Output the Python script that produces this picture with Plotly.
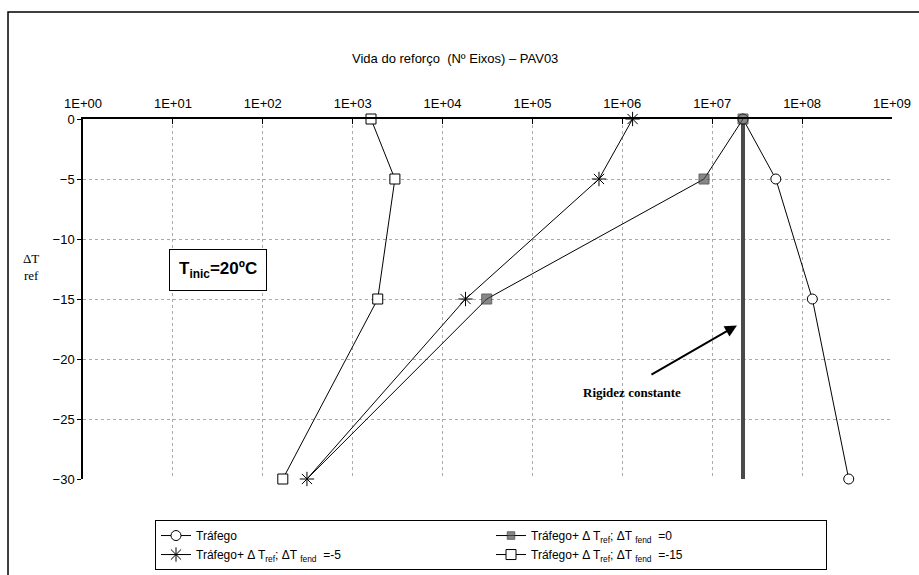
import plotly.graph_objects as go

# Temperature variation (y) and pavement life in number of axles (x, log)
delta_t = [0, -5, -15, -30]
trafego = [2.2e7, 5.1e7, 1.3e8, 3.3e8]
fend_0 = [2.2e7, 8.1e6, 3.1e4, 310]
fend_m5 = [1.3e6, 5.5e5, 1.8e4, 310]
fend_m15 = [1.6e3, 2.95e3, 1.9e3, 167]

rigidez_x = [2.2e7, 2.2e7]
rigidez_y = [0, -30]

tick_vals = [1e0, 1e1, 1e2, 1e3, 1e4, 1e5, 1e6, 1e7, 1e8, 1e9]
tick_text = ["1E+00", "1E+01", "1E+02", "1E+03", "1E+04", "1E+05",
             "1E+06", "1E+07", "1E+08", "1E+09"]

FONT = "Liberation Sans, Arial, sans-serif"
SERIF = "Liberation Serif, Times New Roman, serif"

fig = go.Figure()

# constant stiffness reference line
fig.add_trace(go.Scatter(
    x=rigidez_x, y=rigidez_y, mode="lines",
    line=dict(color="#4a4a4a", width=4),
    showlegend=False, hoverinfo="skip", cliponaxis=False
))

line = dict(color="black", width=1)

fig.add_trace(go.Scatter(
    x=trafego, y=delta_t, mode="lines+markers", name="Tráfego",
    line=line,
    marker=dict(symbol="circle", size=10, color="white",
                line=dict(color="black", width=1)),
    cliponaxis=False
))
fig.add_trace(go.Scatter(
    x=fend_0, y=delta_t, mode="lines+markers",
    name="Tráfego+ Δ T<sub>ref</sub>; ΔT <sub>fend</sub>  =0",
    line=line,
    marker=dict(symbol="square", size=[10, 10, 10, 0], color="#555555",
                line=dict(color="#222222", width=1)),
    cliponaxis=False
))
fig.add_trace(go.Scatter(
    x=fend_m5, y=delta_t, mode="lines+markers",
    name="Tráfego+ Δ T<sub>ref</sub>; ΔT <sub>fend</sub>  =-5",
    line=line,
    marker=dict(symbol="asterisk-open", size=12,
                line=dict(color="black", width=1)),
    cliponaxis=False
))
fig.add_trace(go.Scatter(
    x=fend_m15, y=delta_t, mode="lines+markers",
    name="Tráfego+ Δ T<sub>ref</sub>; ΔT <sub>fend</sub>  =-15",
    line=line,
    marker=dict(symbol="square", size=10, color="white",
                line=dict(color="black", width=1)),
    cliponaxis=False
))

annotations = [
    dict(text="Vida do reforço  (Nº Eixos) – PAV03", xref="paper", yref="paper",
         x=0.46, y=1.169, xanchor="center", yanchor="middle", showarrow=False,
         font=dict(family=FONT, size=13, color="black")),
    dict(text="ΔT<br>ref", xref="paper", yref="paper", x=-0.064, y=0.59,
         xanchor="center", yanchor="middle", showarrow=False, align="center",
         font=dict(family=SERIF, size=13, color="black")),
    dict(text="<b>T<sub>inic</sub>=20ºC</b>", xref="paper", yref="paper",
         x=0.167, y=0.58, xanchor="center", yanchor="middle", showarrow=False,
         font=dict(family=FONT, size=17, color="black"),
         bordercolor="black", borderwidth=1, borderpad=9, bgcolor="white"),
    dict(text="", x=7.275, y=-17.2, xref="x", yref="y",
         ax=-87, ay=50, showarrow=True, arrowhead=2, arrowsize=1.2,
         arrowwidth=2, arrowcolor="black"),
    dict(text="<b>Rigidez constante</b>", x=6.107, y=-22.8, xref="x", yref="y",
         xanchor="center", yanchor="middle", showarrow=False,
         font=dict(family=SERIF, size=13, color="black")),
]

fig.update_layout(
    width=919, height=575,
    margin=dict(l=83, r=27, t=119, b=96, autoexpand=False),
    paper_bgcolor="white", plot_bgcolor="white",
    font=dict(family=FONT, size=12, color="black"),
    showlegend=True,
    legend=dict(
        orientation="h", x=0.089, y=-0.114, xanchor="left", yanchor="top",
        entrywidth=290, bordercolor="black", borderwidth=1,
        font=dict(family=FONT, size=12, color="black"),
        tracegroupgap=0, itemwidth=30
    ),
    xaxis=dict(
        type="log", range=[0, 9], side="top", automargin=False,
        tickmode="array", tickvals=tick_vals, ticktext=tick_text,
        ticks="inside", ticklen=5, tickcolor="black", ticklabelstandoff=4,
        showline=True, linecolor="black", linewidth=1.5,
        showgrid=True, gridcolor="#aaaaaa", griddash="dot", gridwidth=1,
        zeroline=False, tickfont=dict(size=13)
    ),
    yaxis=dict(
        range=[-30, 0], dtick=5, ticks="outside", ticklen=4, tickcolor="black",
        automargin=False,
        showline=True, linecolor="black", linewidth=1.5,
        showgrid=True, gridcolor="#aaaaaa", griddash="dot", gridwidth=1,
        zeroline=False, tickfont=dict(size=13)
    ),
    annotations=annotations,
    shapes=[dict(type="rect", xref="paper", yref="paper",
                 x0=-0.0927, x1=1.05, y0=-0.3, y1=1.297,
                 line=dict(color="black", width=1.5))],
)

# drop the default page margin so the figure sits at the window origin
fig.write_html("out.html", config={"displayModeBar": False},
               post_script="document.body.style.margin='0';")
